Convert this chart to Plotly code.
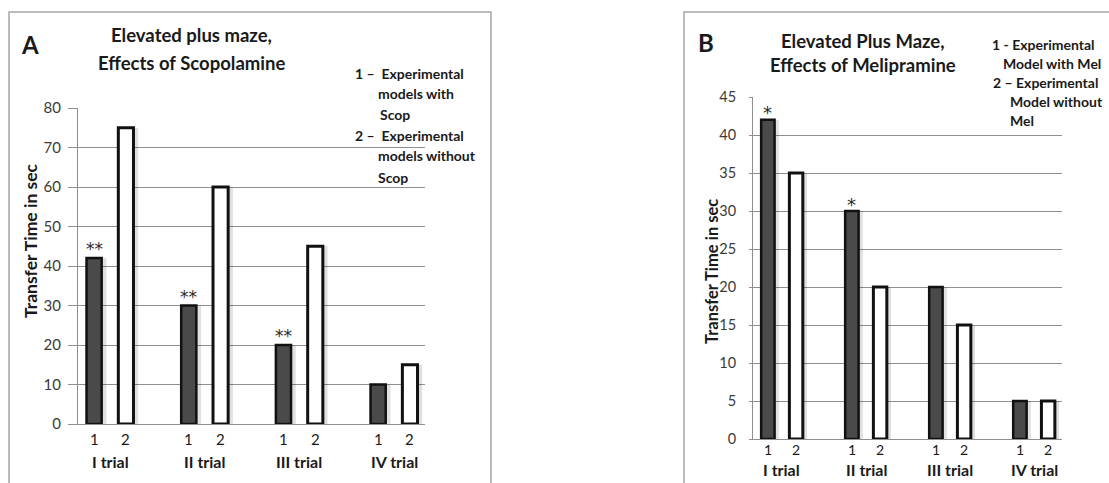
import plotly.graph_objects as go

# ---------------- data ----------------
trials = ["I trial", "II trial", "III trial", "IV trial"]
series_labels = ["1", "2"]

a_with_scop = [42, 30, 20, 10]
a_without_scop = [75, 60, 45, 15]
a_marks = ["**", "**", "**", ""]

b_with_mel = [42, 30, 20, 5]
b_without_mel = [35, 20, 15, 5]
b_marks = ["*", "*", "", ""]

a_title = ["Elevated plus maze,", "Effects of Scopolamine"]
b_title = ["Elevated Plus Maze,", "Effects of Melipramine"]
a_legend = ["1 \u2013  Experimental", "models with", "Scop",
            "2 \u2013  Experimental", "models without", "Scop"]
b_legend = ["1 - Experimental", "Model with Mel", "2 \u2013 Experimental",
            "Model without", "Mel"]
y_title = "Transfer Time in sec"

# ---------------- layout helpers ----------------
W, H = 1109, 483
FONT = "Lato"
DARK = "#4a4a4a"
GRID = "#8f8f8f"
TXT = "#1a1a1a"

def px(x):
    return x / W

def py(y):
    return 1 - y / H

OFF = 0.168   # half distance between bar centres (category units)
BW = 0.16     # bar width (category units)

fig = go.Figure()

def add_panel(xa, ya, dark_vals, white_vals):
    # soft shadows
    for vals, off in ((dark_vals, -OFF), (white_vals, OFF)):
        fig.add_trace(go.Bar(x=trials, y=vals, xaxis=xa, yaxis=ya,
                             offset=off - BW / 2 + 0.035, width=BW + 0.015,
                             marker=dict(color="rgba(0,0,0,0.12)", line=dict(width=0)),
                             showlegend=False, hoverinfo="skip"))
    fig.add_trace(go.Bar(x=trials, y=dark_vals, xaxis=xa, yaxis=ya,
                         offset=-OFF - BW / 2, width=BW,
                         marker=dict(color=DARK, line=dict(color="#111111", width=2.5)),
                         showlegend=False, name="1"))
    fig.add_trace(go.Bar(x=trials, y=white_vals, xaxis=xa, yaxis=ya,
                         offset=OFF - BW / 2, width=BW,
                         marker=dict(color="white", line=dict(color="#111111", width=3)),
                         showlegend=False, name="2"))

add_panel("x", "y", a_with_scop, a_without_scop)
add_panel("x2", "y2", b_with_mel, b_without_mel)

annotations = []

def panel_annots(xref, yref, dark_vals, marks, lab_shift, trial_shift,
                 lab_size, trial_size, mark_size, mark_shift):
    for i, t in enumerate(trials):
        for s, lab in enumerate(series_labels):
            annotations.append(dict(
                x=i + (-OFF if s == 0 else OFF), y=0, xref=xref, yref=yref,
                text=lab, showarrow=False, yanchor="top", yshift=lab_shift,
                font=dict(family=FONT, size=lab_size, color=TXT)))
        annotations.append(dict(
            x=i, y=0, xref=xref, yref=yref, text="<b>%s</b>" % t,
            showarrow=False, yanchor="top", yshift=trial_shift,
            font=dict(family=FONT, size=trial_size, color=TXT)))
        if marks[i]:
            annotations.append(dict(
                x=i - OFF, y=dark_vals[i], xref=xref, yref=yref, text=marks[i],
                showarrow=False, yanchor="middle", yshift=mark_shift,
                font=dict(family="DejaVu Sans", size=mark_size, color="#2a2a2a")))

panel_annots("x", "y", a_with_scop, a_marks, -4, -26, 15, 16, 17, 9)
panel_annots("x2", "y2", b_with_mel, b_marks, 0, -19, 14, 16, 18, 7)

def paper_text(x, y, text, size, xanchor="center", angle=0):
    annotations.append(dict(
        x=px(x), y=py(y), xref="paper", yref="paper", text=text,
        showarrow=False, xanchor=xanchor, yanchor="middle", textangle=angle,
        font=dict(family=FONT, size=size, color=TXT)))

# Panel A texts
paper_text(30, 45, "<b>A</b>", 24)
paper_text(191, 35, "<b>%s</b>" % a_title[0], 18.5)
paper_text(191, 63, "<b>%s</b>" % a_title[1], 18.5)
a_leg_pos = [(353, 73), (376, 94), (378, 114), (353, 135), (376, 156), (376, 177)]
for (lx, ly), t in zip(a_leg_pos, a_legend):
    paper_text(lx, ly, "<b>%s</b>" % t, 14, xanchor="left")
paper_text(30, 241, "<b>%s</b>" % y_title, 17.5, angle=-90)

# Panel B texts
paper_text(706, 43, "<b>B</b>", 24)
paper_text(863, 41, "<b>%s</b>" % b_title[0], 18.5)
paper_text(863, 65, "<b>%s</b>" % b_title[1], 18.5)
b_leg_pos = [(990, 45), (1001, 63), (991, 82), (1008, 102), (1008, 120)]
for (lx, ly), t in zip(b_leg_pos, b_legend):
    paper_text(lx, ly, "<b>%s</b>" % t, 14, xanchor="left")
paper_text(712, 272, "<b>%s</b>" % y_title, 16.5, angle=-90)

shapes = [
    dict(type="rect", xref="paper", yref="paper", x0=px(9), x1=px(491),
         y0=-0.2, y1=py(12), line=dict(color="#a6a6a6", width=1.5)),
    dict(type="rect", xref="paper", yref="paper", x0=px(684), x1=1.2,
         y0=-0.2, y1=py(12), line=dict(color="#a6a6a6", width=1.5)),
]

xcommon = dict(type="category", showgrid=False, showticklabels=False, ticks="",
               showline=True, linecolor=GRID, linewidth=1, zeroline=False)
ycommon = dict(showgrid=True, gridcolor=GRID, gridwidth=1, showline=True,
               linecolor=GRID, linewidth=1, zeroline=False, ticks="outside",
               tickcolor=GRID, automargin=False)

fig.update_layout(
    width=W, height=H, margin=dict(l=0, r=0, t=0, b=0, pad=0, autoexpand=False),
    paper_bgcolor="white", plot_bgcolor="white", barmode="overlay",
    xaxis=dict(domain=[px(78), px(425)], range=[-0.338, 3.327], anchor="y",
               automargin=False, **xcommon),
    yaxis=dict(domain=[py(424), py(108)], range=[0, 80], dtick=10, anchor="x",
               ticklen=9, ticklabelstandoff=4,
               tickfont=dict(family=FONT, size=15, color="#3d3a36"), **ycommon),
    xaxis2=dict(domain=[px(753), px(1062)], range=[-0.345, 3.333], anchor="y2",
                automargin=False, **xcommon),
    yaxis2=dict(domain=[py(439), py(97)], range=[0, 45], dtick=5, anchor="x2",
                ticklen=3, ticklabelstandoff=10,
                tickfont=dict(family=FONT, size=14.5, color="#3d3a36"), **ycommon),
    annotations=annotations, shapes=shapes,
)

fig.write_html("out.html", config={"displayModeBar": False},
               post_script="document.body.style.margin='0';document.body.style.overflow='hidden';")
